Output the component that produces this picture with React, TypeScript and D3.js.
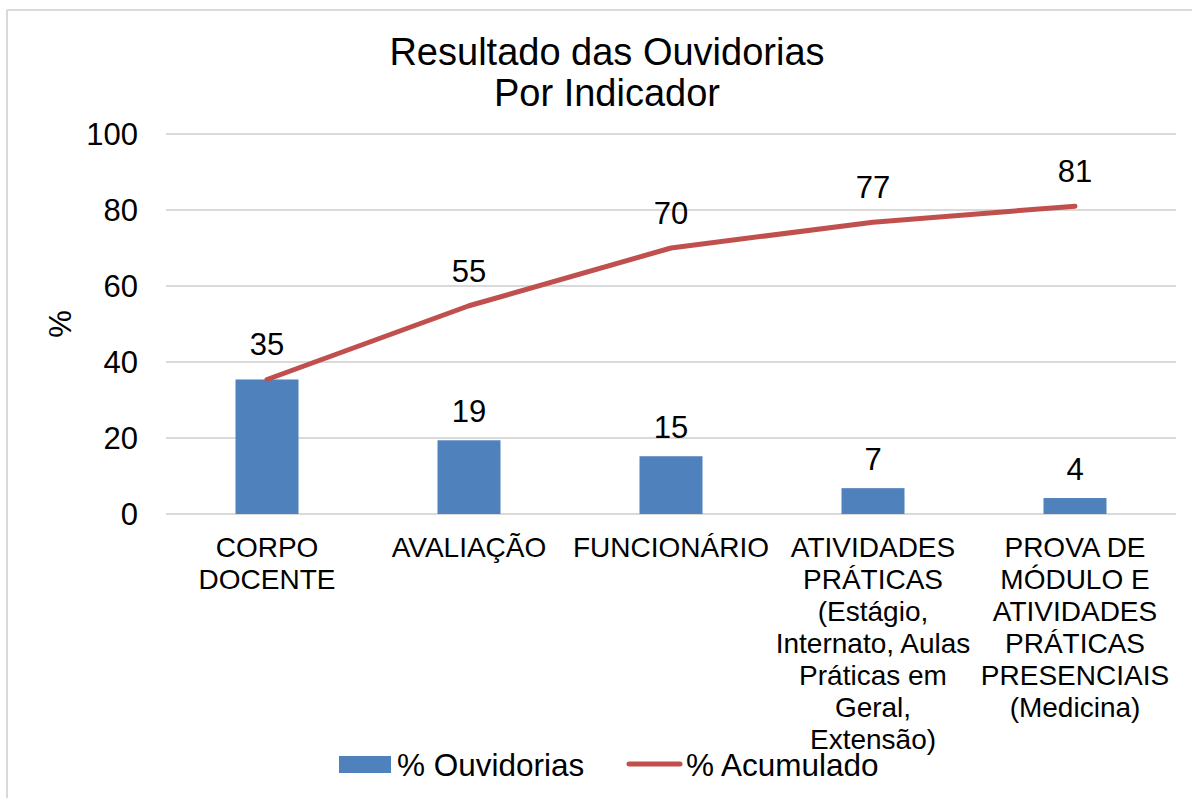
import React from "react";
import * as d3 from "d3";

const categories: string[][] = [
  ["CORPO", "DOCENTE"],
  ["AVALIAÇÃO"],
  ["FUNCIONÁRIO"],
  ["ATIVIDADES", "PRÁTICAS", "(Estágio,", "Internato, Aulas", "Práticas em", "Geral,", "Extensão)"],
  ["PROVA DE", "MÓDULO E", "ATIVIDADES", "PRÁTICAS", "PRESENCIAIS", "(Medicina)"],
];
const ouvidorias = [35.4, 19.4, 15.2, 6.8, 4.2];
const acumulado = [35.4, 54.8, 70.0, 76.8, 81.0];
const yTicks = [0, 20, 40, 60, 80, 100];
const titleLines = ["Resultado das Ouvidorias", "Por Indicador"];
const seriesNames = ["% Ouvidorias", "% Acumulado"];

const W = 1192;
const H = 798;
const FONT = "'Liberation Sans', Arial, sans-serif";
const BLUE = "#4f81bd";
const RED = "#c0504d";

export default function App() {
  const x = d3.scaleBand<number>().domain(d3.range(categories.length)).range([166, 1176]).padding(0);
  const y = d3.scaleLinear().domain([0, 100]).range([514, 134]);
  const barW = 63;
  const cx = (i: number) => (x(i) as number) + x.bandwidth() / 2;
  const line = d3
    .line<number>()
    .x((_, i) => cx(i))
    .y((d) => y(d));

  return (
    <svg
      width={W}
      height={H}
      style={{ position: "absolute", left: 0, top: 0, background: "#fff" }}
      fontFamily={FONT}
    >
      <rect x={0} y={0} width={W} height={H} fill="#fff" />
      <line x1={7} y1={10} x2={W} y2={10} stroke="#d9d9d9" strokeWidth={2} />
      <line x1={7} y1={10} x2={7} y2={H} stroke="#d9d9d9" strokeWidth={2} />

      {titleLines.map((t, i) => (
        <text key={t} x={607} y={65 + i * 41} textAnchor="middle" fontSize={38} fill="#000">
          {t}
        </text>
      ))}

      {yTicks.map((t) => (
        <g key={t}>
          <line x1={166} x2={1176} y1={y(t)} y2={y(t)} stroke="#d9d9d9" strokeWidth={2} />
          <text x={138} y={y(t)} dy="0.36em" textAnchor="end" fontSize={31} fill="#000">
            {t}
          </text>
        </g>
      ))}

      <text
        transform={`translate(60,324) rotate(-90)`}
        textAnchor="middle"
        dy="0.36em"
        fontSize={31}
        fill="#000"
      >
        %
      </text>

      {ouvidorias.map((v, i) => (
        <g key={i}>
          <rect x={cx(i) - barW / 2} y={y(v)} width={barW} height={y(0) - y(v)} fill={BLUE} />
          {i > 0 && (
            <text x={cx(i)} y={y(v) - 18} textAnchor="middle" fontSize={31} fill="#000">
              {Math.round(v)}
            </text>
          )}
        </g>
      ))}

      <path
        d={line(acumulado) || ""}
        fill="none"
        stroke={RED}
        strokeWidth={5}
        strokeLinecap="round"
        strokeLinejoin="round"
      />
      {acumulado.map((v, i) => (
        <text key={i} x={cx(i)} y={y(v) - 24} textAnchor="middle" fontSize={31} fill="#000">
          {Math.round(v)}
        </text>
      ))}

      {categories.map((lines, i) => (
        <text key={i} textAnchor="middle" fontSize={28} fill="#000">
          {lines.map((l, j) => (
            <tspan key={j} x={cx(i)} y={557 + j * 32}>
              {l}
            </tspan>
          ))}
        </text>
      ))}

      <rect x={339} y={756} width={52} height={17} fill={BLUE} />
      <text x={397} y={776} fontSize={31.5} fill="#000">
        {seriesNames[0]}
      </text>
      <line x1={629} x2={680} y1={764} y2={764} stroke={RED} strokeWidth={5} strokeLinecap="round" />
      <text x={686} y={776} fontSize={31.5} fill="#000">
        {seriesNames[1]}
      </text>
    </svg>
  );
}
